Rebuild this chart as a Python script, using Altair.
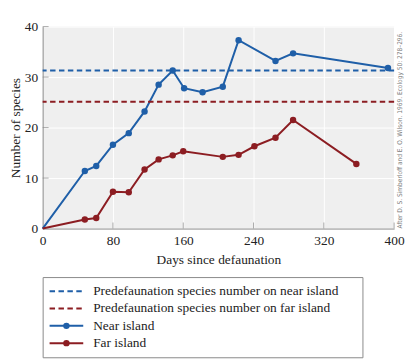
import altair as alt
import pandas as pd

# ---- data ----
near_days = [0, 48, 61, 80, 98, 116, 132, 148, 161, 182, 205, 223, 265, 285, 393]
near_species = [0, 11.4, 12.4, 16.6, 18.9, 23.2, 28.5, 31.3, 27.8, 27.0, 28.1, 37.3, 33.2, 34.7, 31.8]
far_days = [0, 48, 61, 80, 98, 116, 132, 148, 160, 205, 223, 241, 265, 285, 357]
far_species = [0, 1.8, 2.1, 7.3, 7.2, 11.7, 13.7, 14.5, 15.3, 14.2, 14.6, 16.3, 18.0, 21.5, 12.8]
pre_values = [31.3, 25.1]
x_ticks = [0, 80, 160, 240, 320, 400]
y_ticks = [0, 10, 20, 30, 40]
legend_labels = [
    "Predefaunation species number on near island",
    "Predefaunation species number on far island",
    "Near island",
    "Far island",
]
legend_styles = ["dash", "dash", "solid", "solid"]
legend_markers = [False, False, True, True]
series_colors = ["#1f5fa8", "#8c1d22", "#1f5fa8", "#8c1d22"]
citation = "After D. S. Simberloff and E. O. Wilson. 1969. Ecology 50: 278\u2013296."

SERIF = "Liberation Serif"
FS = 13.5
GRAY = "#8a8a8a"
TXT = "#222222"

series_df = pd.DataFrame({
    "days": near_days + far_days,
    "species": near_species + far_species,
    "label": [legend_labels[2]] * len(near_days) + [legend_labels[3]] * len(far_days),
})
ref_df = pd.DataFrame({"label": legend_labels[:2], "species": pre_values})
xt_df = pd.DataFrame({"t": x_ticks[1:]})
yt_df = pd.DataFrame({"t": y_ticks[1:]})
cite_df = pd.DataFrame({"text": [citation]})

color_scale = alt.Scale(domain=legend_labels, range=series_colors)
dash_scale = alt.Scale(domain=["dash", "solid"], range=[[5.5, 3.5], [1, 0]])

xs = alt.Scale(domain=[0, 400], nice=False)
ys = alt.Scale(domain=[0, 40], nice=False)

x_enc = alt.X("days:Q", scale=xs, axis=alt.Axis(values=x_ticks, title="Days since defaunation",
                                               labelFlush=False, titlePadding=6))
y_enc = alt.Y("species:Q", scale=ys, axis=alt.Axis(values=y_ticks, title="Number of species",
                                                  labelFlush=False, titlePadding=2))

base = alt.Chart(series_df)

refs = alt.Chart(ref_df).mark_rule(strokeWidth=2, strokeDash=[5.5, 3.5]).encode(
    y=alt.Y("species:Q", scale=ys),
    color=alt.Color("label:N", scale=color_scale, legend=None),
)
lines = base.mark_line(strokeWidth=2).encode(
    x=x_enc, y=y_enc,
    color=alt.Color("label:N", scale=color_scale, legend=None),
    detail="label:N",
)
points = base.transform_filter("datum.days > 0").mark_circle(size=42, opacity=1).encode(
    x="days:Q", y="species:Q",
    color=alt.Color("label:N", scale=color_scale, legend=None),
)
xticks = alt.Chart(xt_df).mark_tick(orient="vertical", size=6, thickness=1, color=GRAY, yOffset=-3).encode(
    x=alt.X("t:Q", scale=xs), y=alt.datum(0)
)
yticks = alt.Chart(yt_df).mark_tick(orient="horizontal", size=6, thickness=1, color=GRAY, xOffset=3).encode(
    y=alt.Y("t:Q", scale=ys), x=alt.datum(0)
)
cite = alt.Chart(cite_df).mark_text(
    angle=270, align="left", baseline="top", dy=3,
    font="Liberation Sans Narrow, DejaVu Sans Condensed, sans-serif", fontSize=6.6, color="#7a7a7a",
).encode(x=alt.datum(400), y=alt.datum(0), text="text:N")

main = alt.layer(lines, refs, points, xticks, yticks, cite).properties(
    width=355, height=204,
    view=alt.ViewBackground(fill="#efefef", stroke=None),
)

# ---- legend panel ----
leg_df = pd.DataFrame({"label": legend_labels, "style": legend_styles, "marker": legend_markers})
leg_y = alt.Y("label:N", sort=legend_labels, axis=None, scale=alt.Scale(padding=0.63))
leg_base = alt.Chart(leg_df)
leg_rule = leg_base.mark_rule(strokeWidth=2).encode(
    y=leg_y, x=alt.value(7), x2=alt.value(41),
    color=alt.Color("label:N", scale=color_scale, legend=None),
    strokeDash=alt.StrokeDash("style:N", scale=dash_scale, legend=None),
)
leg_pt = leg_base.transform_filter("datum.marker").mark_circle(size=42, opacity=1).encode(
    y=leg_y, x=alt.value(24),
    color=alt.Color("label:N", scale=color_scale, legend=None),
)
leg_txt = leg_base.mark_text(align="left", baseline="middle", font=SERIF, fontSize=FS, color=TXT).encode(
    y=leg_y, x=alt.value(51), text="label:N"
)
legend = alt.layer(leg_rule, leg_pt, leg_txt).properties(
    width=323, height=81,
    view=alt.ViewBackground(fill="white", stroke="#8a8a8a", strokeWidth=1),
)

chart = alt.vconcat(main, legend, spacing=10).properties(
    padding={"left": 0, "top": 10, "right": 2, "bottom": 2},
).configure_axis(
    grid=True, gridColor="white", gridWidth=1,
    domainColor=GRAY, domainWidth=1, ticks=False, tickSize=0,
    labelFont=SERIF, labelFontSize=FS, labelColor=TXT, labelPadding=5,
    titleFont=SERIF, titleFontSize=FS, titleColor=TXT, titleFontWeight="normal",
).configure_view(stroke=None)

chart.save("out.html", embed_options={"renderer": "svg", "actions": False})
